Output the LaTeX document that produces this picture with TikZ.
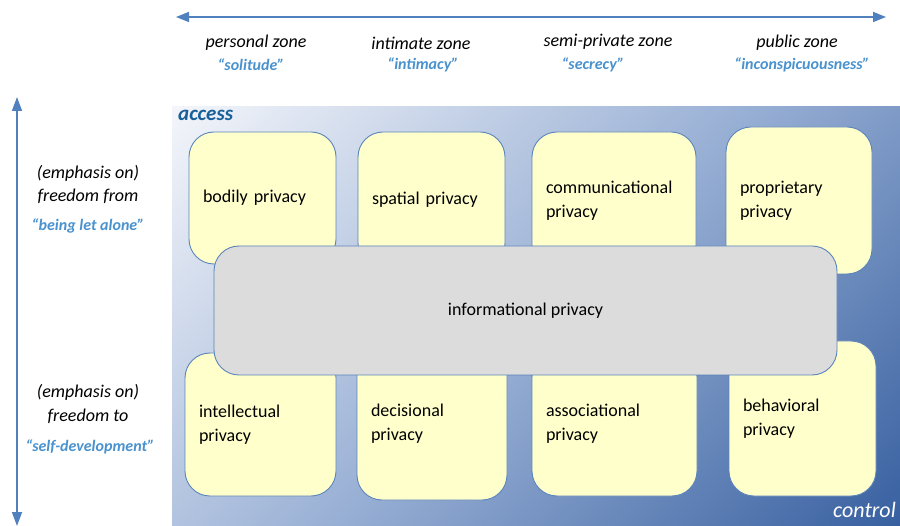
\documentclass[tikz,border=0pt]{standalone}
\usepackage{fontspec}
\setmainfont{Carlito}
\usetikzlibrary{arrows.meta}
\definecolor{arrblue}{HTML}{5080BE}
\definecolor{qblue}{HTML}{4A92CE}
\definecolor{accblue}{HTML}{17609A}
\definecolor{bglight}{HTML}{F3F5FA}
\definecolor{bgmid}{HTML}{99B0D5}
\definecolor{bgdark}{HTML}{3860A0}
\definecolor{boxyellow}{HTML}{FFFFCC}
\definecolor{boxgray}{HTML}{DCDCDC}
\definecolor{boxline}{HTML}{5A84BC}
\pgfdeclareverticalshading{bgshade}{100bp}{color(0bp)=(bgdark); color(14.64bp)=(bgdark); color(50bp)=(bgmid); color(85.36bp)=(bglight); color(100bp)=(bglight)}
\tikzset{
  arr/.style={draw=arrblue, line width=1.5pt},
  zone/.style={font=\fontsize{18}{22}\selectfont\itshape, inner sep=0pt},
  quote/.style={font=\fontsize{16}{20}\selectfont\bfseries\itshape, text=qblue, inner sep=0pt},
  side/.style={font=\fontsize{18}{22}\selectfont\itshape, inner sep=0pt},
  ybox/.style={draw=boxline, line width=0.9pt, fill=boxyellow, rounded corners=25pt,
    inner xsep=14pt, inner ysep=0pt, align=left, font=\fontsize{18}{24}\selectfont},
  gbox/.style={draw=boxline, line width=0.9pt, fill=boxgray, rounded corners=25pt,
    inner sep=0pt, align=center, font=\fontsize{18}{24}\selectfont},
}
\newcommand{\ybox}[6]{% name, left, right, top, bottom, text
  \node[ybox, minimum width={#3pt-#2pt}, minimum height={#5pt-#4pt},
    text width={#3pt-#2pt-28pt}] (#1) at ({(#2+#3)/2},{(#4+#5)/2}) {#6};}
\begin{document}
\begin{tikzpicture}[x=1pt,y=-1pt]
\useasboundingbox (0,0) rectangle (900,526);
\fill[white] (0,0) rectangle (900,526);
% background
\shade[shading=bgshade, shading angle=45] (172,107) rectangle (900,526);
\node[font=\fontsize{21}{24}\selectfont\bfseries\itshape, text=accblue, anchor=west, inner sep=0pt] (acc) at (178,115) {access};
\node[font=\fontsize{22}{24}\selectfont\itshape, text=white, anchor=east, inner sep=0pt] (ctl) at (896,510) {control};
% arrows
\coordinate (hl) at (176,17);
\coordinate (hr) at (886,17);
\draw[arr, {Triangle[length=13pt,width=10pt]}-{Triangle[length=13pt,width=10pt]}] (hl) -- (hr);
\coordinate (vt) at (17,97);
\coordinate (vb) at (17,526);
\draw[arr, {Triangle[length=14pt,width=10pt]}-{Triangle[length=14pt,width=10pt]}] (vt) -- (vb);
% zone labels
\node[zone] (pz) at (256,43) {personal zone};
\node[quote] (pzq) at (251,65) {“solitude”};
\node[zone] (iz) at (421,43) {intimate zone};
\node[quote] (izq) at (423,65) {“intimacy”};
\node[zone] (sz) at (608,42) {semi-private zone};
\node[quote] (szq) at (593,65) {“secrecy”};
\node[zone] (uz) at (797,43) {public zone};
\node[quote] (uzq) at (802,65) {“inconspicuousness”};
% side labels
\node[side] (e1) at (88,173) {(emphasis on)};
\node[side] (f1) at (88,196) {freedom from};
\node[quote] (q1) at (88,226) {“being let alone”};
\node[side] (e2) at (88,392) {(emphasis on)};
\node[side] (f2) at (88,416) {freedom to};
\node[quote] (q2) at (90,447) {“self-development”};
% top row
\ybox{bod}{189}{336}{132}{264}{bodily privacy}
\ybox{spa}{358}{505}{132}{268}{spatial privacy}
\ybox{com}{532}{696}{132}{270}{communicational\\privacy}
\ybox{pro}{726}{872}{127}{274}{proprietary\\privacy}
% bottom row
\ybox{int}{185}{336}{353}{496}{intellectual\\privacy}
\ybox{dec}{357}{507}{348}{500}{decisional\\privacy}
\ybox{ass}{532}{697}{352}{496}{associational\\privacy}
\ybox{beh}{729}{876}{341}{496}{behavioral\\privacy}
% informational
\node[gbox, minimum width=623pt, minimum height=129pt] (inf) at (525.5,310.5) {informational privacy};
\end{tikzpicture}
\end{document}
